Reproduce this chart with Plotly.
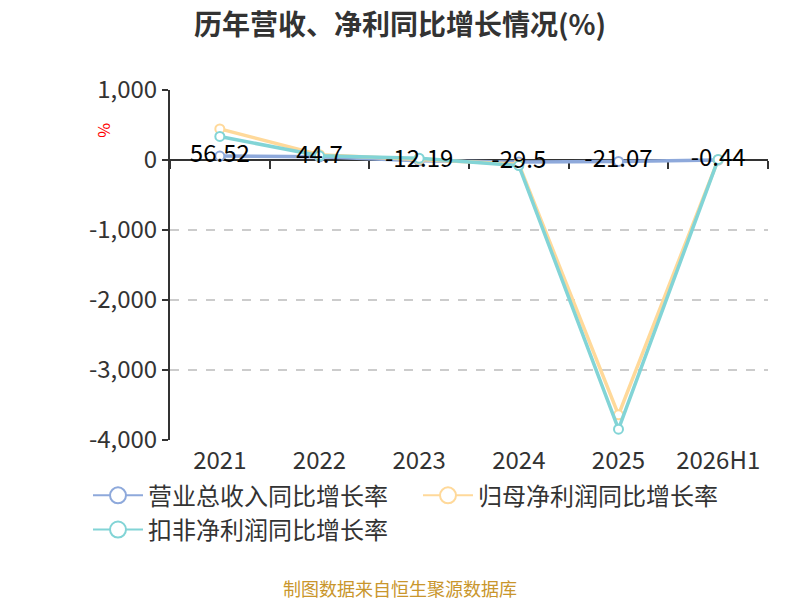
import plotly.graph_objects as go

# categories and series (%)
years = ["2021", "2022", "2023", "2024", "2025", "2026H1"]
revenue_growth = [56.52, 44.7, -12.19, -29.5, -21.07, -0.44]
net_profit_growth = [444, 75, 8, -60, -3640, 5]
deducted_profit_growth = [336, 60, 25, -80, -3846, 8]

y_ticks = [1000, 0, -1000, -2000, -3000, -4000]
y_labels = ["1,000", "0", "-1,000", "-2,000", "-3,000", "-4,000"]

FONT = "Noto Sans CJK SC"

fig = go.Figure()

series = [
    ("营业总收入同比增长率", revenue_growth, "#8EA9DB"),
    ("归母净利润同比增长率", net_profit_growth, "#FFD99A"),
    ("扣非净利润同比增长率", deducted_profit_growth, "#82D4D6"),
]
for name, vals, color in series:
    fig.add_trace(go.Scatter(
        x=years, y=vals, name=name, mode="lines+markers",
        line=dict(color=color, width=3.5),
        marker=dict(symbol="circle", size=9, color="white",
                    line=dict(color=color, width=2)),
        cliponaxis=False, showlegend=False,
    ))
    # legend-only entry with a bigger open circle
    fig.add_trace(go.Scatter(
        x=[None], y=[None], name=name, mode="lines+markers",
        line=dict(color=color, width=2),
        marker=dict(symbol="circle", size=22, color="white",
                    line=dict(color=color, width=2)),
    ))

# value labels for revenue growth
fig.add_trace(go.Scatter(
    x=years, y=revenue_growth, mode="text",
    text=[str(v) for v in revenue_growth], textposition="middle center",
    textfont=dict(size=24, color="#000000", family=FONT),
    showlegend=False, hoverinfo="skip", cliponaxis=False,
))

# boundary ticks on the zero line
fig.add_trace(go.Scatter(x=years, y=[None] * len(years), xaxis="x2",
                         showlegend=False, hoverinfo="skip"))

# the page puts the figure 8px in from the top-left corner
fig.update_layout(
    width=800, height=600,
    paper_bgcolor="white", plot_bgcolor="white",
    margin=dict(l=162, r=40, t=82, b=168, autoexpand=False),
    font=dict(family=FONT, color="#333333"),
    title=dict(text="<b>历年营收、净利同比增长情况(%)</b>", x=(400 - 8) / 800,
               xanchor="center", y=1 - 17 / 600, yanchor="middle",
               font=dict(size=28, color="#333333")),
    xaxis=dict(type="category", categoryorder="array", categoryarray=years,
               range=[-0.5, 5.5], ticklabelstandoff=4,
               showline=False, showgrid=False, ticks="", zeroline=False,
               tickfont=dict(size=24, color="#333333")),
    xaxis2=dict(type="category", categoryorder="array", categoryarray=years,
                range=[-0.5, 5.5],
                overlaying="x", anchor="free", position=0.8, side="bottom",
                showline=False, layer="below traces",
                ticks="outside", tickson="boundaries", ticklen=8, tickwidth=2,
                tickcolor="#333333", showticklabels=False, showgrid=False),
    yaxis=dict(range=[-4000, 1000], tickvals=y_ticks, ticktext=y_labels,
               showline=True, linecolor="#333333", linewidth=2,
               ticks="outside", ticklen=6, tickwidth=2, tickcolor="#333333",
               showgrid=True, gridcolor="#CCCCCC", griddash="dash", gridwidth=1.5,
               zeroline=True, zerolinecolor="#333333", zerolinewidth=2,
               tickfont=dict(size=24, color="#333333")),
    legend=dict(orientation="h", x=(88 - 170) / 598, xanchor="left",
                y=-0.095, yanchor="top", font=dict(size=24, color="#333333"),
                tracegroupgap=0, itemsizing="trace", itemwidth=50,
                entrywidth=265, entrywidthmode="pixels"),
    annotations=[
        dict(text="%", x=(105 - 170) / 598, y=(440 - 130) / 350,
             xref="paper", yref="paper", showarrow=False, textangle=90,
             xanchor="center", yanchor="middle",
             font=dict(size=16, color="#FF0000")),
        dict(text="制图数据来自恒生聚源数据库", xref="paper", yref="paper",
             x=(400 - 170) / 598, y=(440 - 588) / 350, xanchor="center",
             yanchor="middle", showarrow=False,
             font=dict(size=18, color="#C9962C")),
    ],
)

fig.write_html("out.html")
